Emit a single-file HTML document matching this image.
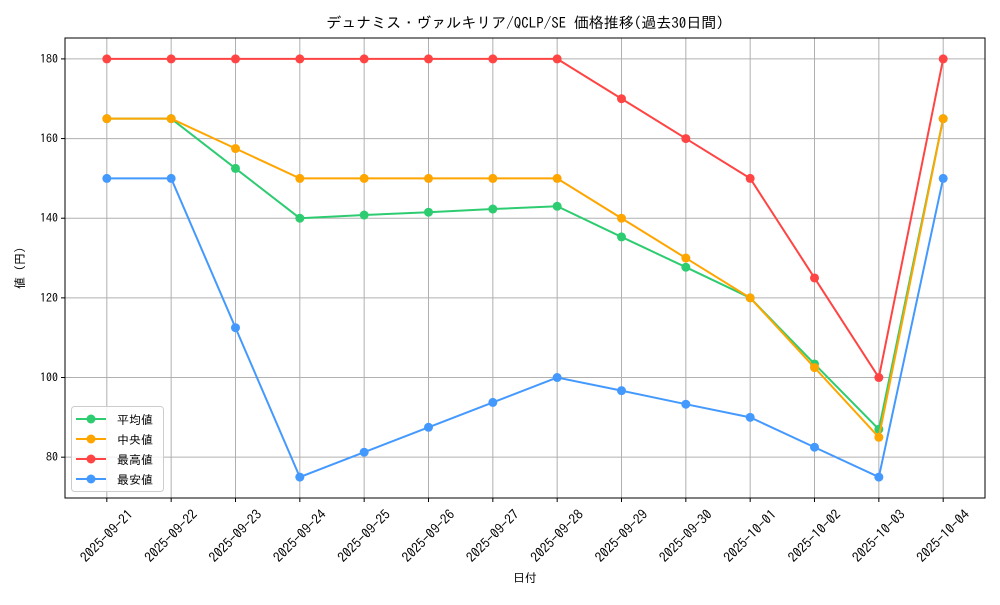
<!DOCTYPE html>
<html><head><meta charset="utf-8">
<style>
body{margin:0;background:#fff;}
svg text{font-family:"IPAGothic","Noto Sans CJK JP",sans-serif;}
</style></head>
<body>
<svg id="chart" width="1000" height="600" xmlns="http://www.w3.org/2000/svg"></svg>
<script>
const categories=["2025-09-21","2025-09-22","2025-09-23","2025-09-24","2025-09-25","2025-09-26","2025-09-27","2025-09-28","2025-09-29","2025-09-30","2025-10-01","2025-10-02","2025-10-03","2025-10-04"];
const avgValues=[165,165,152.5,140,140.8,141.5,142.3,143,135.3,127.7,120,103.4,87,165];
const medianValues=[165,165,157.5,150,150,150,150,150,140,130,120,102.5,85,165];
const maxValues=[180,180,180,180,180,180,180,180,170,160,150,125,100,180];
const minValues=[150,150,112.5,75,81.25,87.5,93.75,100,96.7,93.3,90,82.5,75,150];
const yTicks=[80,100,120,140,160,180];
const seriesNames=["平均値","中央値","最高値","最安値"];

const svg=document.getElementById('chart');
const NS='http://www.w3.org/2000/svg';
const L=65,R=985,T=38,B=498;
const yMin=69.75,yMax=185.25;
const n=categories.length;
function x(i){const step=(R-L)/(n-1+1.3);return L+step*(i+0.65);}
function y(v){return B-(v-yMin)/(yMax-yMin)*(B-T);}
function mk(tag,attrs,parent){const e=document.createElementNS(NS,tag);for(const k in attrs)e.setAttribute(k,attrs[k]);(parent||svg).appendChild(e);return e;}

const grid=mk('g',{});


categories.forEach((c,i)=>{
  mk('line',{x1:x(i),x2:x(i),y1:T,y2:B,stroke:'#b0b0b0','stroke-width':1},grid);
  mk('line',{x1:x(i),x2:x(i),y1:B,y2:B+4,stroke:'#000','stroke-width':1},grid);
  const cy=B+38;
  const t=mk('text',{x:x(i),y:cy+4.5,'font-size':13.5,'text-anchor':'middle',transform:`rotate(-45 ${x(i)} ${cy})`},svg);
  
  
  t.textContent=c;
});
yTicks.forEach(v=>{
  mk('line',{x1:L,x2:R,y1:y(v),y2:y(v),stroke:'#b0b0b0','stroke-width':1},grid);
  mk('line',{x1:L-4,x2:L,y1:y(v),y2:y(v),stroke:'#000','stroke-width':1},grid);
  const t=mk('text',{x:L-7,y:y(v)+4,'font-size':12,'text-anchor':'end'});
  
  
  t.textContent=v;
});

const colors=['#2ecc71','#ffa500','#ff4444','#4499ff'];
const all=[avgValues,medianValues,maxValues,minValues];
const ids=['series-average','series-median','series-max','series-min'];
all.forEach((vals,s)=>{
  const g=mk('g',{});
  
  
  mk('polyline',{points:vals.map((v,i)=>x(i)+','+y(v)).join(' '),fill:'none',stroke:colors[s],'stroke-width':2},g);
  vals.forEach((v,i)=>{
    const c=mk('circle',{cx:x(i),cy:y(v),r:4.5,fill:colors[s]},g);
    
    
  });
});

const frame=mk('rect',{x:L,y:T,width:R-L,height:B-T,fill:'none',stroke:'#000','stroke-width':1});



const lg=mk('g',{});


mk('rect',{x:71.5,y:406.5,width:92,height:85,rx:3,fill:'#fff','fill-opacity':0.8,stroke:'#ccc'},lg);
seriesNames.forEach((nm,s)=>{
  const yy=419+s*20;
  const e=mk('g',{},lg);
  
  
  mk('line',{x1:76,x2:106,y1:yy,y2:yy,stroke:colors[s],'stroke-width':2},e);
  mk('circle',{cx:91,cy:yy,r:4.5,fill:colors[s]},e);
  const t=mk('text',{x:117,y:yy+5,'font-size':12},e);
  t.textContent=nm;
});

const title=mk('text',{x:525,y:28,'font-size':15,'text-anchor':'middle'});


title.textContent='デュナミス・ヴァルキリア/QCLP/SE 価格推移(過去30日間)';
const xt=mk('text',{x:525,y:582,'font-size':12,'text-anchor':'middle'});


xt.textContent='日付';
const yt=mk('text',{x:24,y:268,'font-size':12,'text-anchor':'middle',transform:'rotate(-90 24 268)'});


yt.textContent='値 (円)';
</script>
</body></html>
